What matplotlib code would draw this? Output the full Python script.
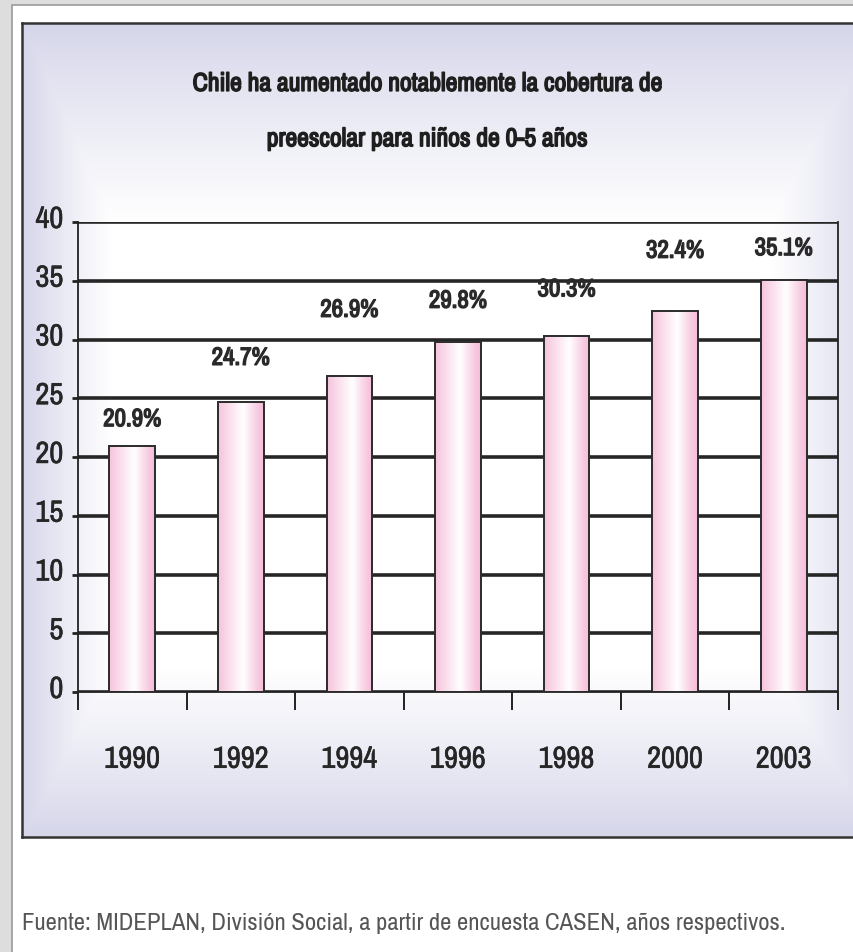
import numpy as np
import matplotlib
matplotlib.use("Agg")
import matplotlib.pyplot as plt
import matplotlib.patheffects as pe
from matplotlib.patches import Rectangle
from matplotlib.transforms import ScaledTranslation

# datos
years = ["1990", "1992", "1994", "1996", "1998", "2000", "2003"]
coverage = [20.9, 24.7, 26.9, 29.8, 30.3, 32.4, 35.1]
value_labels = ["20.9%", "24.7%", "26.9%", "29.8%", "30.3%", "32.4%", "35.1%"]
y_ticks = [0, 5, 10, 15, 20, 25, 30, 35, 40]

title = "Chile ha aumentado notablemente la cobertura de\npreescolar para niños de 0-5 años"
source = "Fuente: MIDEPLAN, División Social, a partir de encuesta CASEN, años respectivos."

FONT = ["Archivo Narrow", "DejaVu Sans"]
plt.rcParams["font.family"] = FONT

W, H = 854, 952
fig = plt.figure(figsize=(W / 100, H / 100), dpi=100)
fig.patch.set_facecolor("#dddddd")


def fx(px):
    return px / W


def fy(py):
    return 1 - py / H


def heavy(lw, color):
    # negrita simulada, la fuente condensada no trae variante bold
    return [pe.withStroke(linewidth=lw, foreground=color)]


# caja blanca exterior
fig.patches.append(Rectangle((fx(12), -0.1), 1, fy(5) + 0.1, transform=fig.transFigure,
                             facecolor="white", edgecolor="#9a9a9a", lw=1.2, zorder=-10))

# panel lila con degradado
p_left, p_top, p_right, p_bottom = 22, 23, 880, 837
bg = fig.add_axes([fx(p_left), fy(p_bottom), fx(p_right - p_left), (p_bottom - p_top) / H])
bg.set_zorder(-5)
nx, ny = p_right - p_left, p_bottom - p_top
xx = np.arange(nx)[None, :]
yy = np.arange(ny)[:, None]
d = np.minimum.reduce([
    np.broadcast_to(xx / 90.0, (ny, nx)),
    np.broadcast_to((nx - xx) / 110.0, (ny, nx)),
    np.broadcast_to(yy / 200.0, (ny, nx)),
    np.broadcast_to((ny - yy) / 170.0, (ny, nx)),
])
d = np.clip(d, 0, 1) ** 0.9
lav = np.array([0.835, 0.835, 0.918])
wht = np.array([1.0, 1.0, 1.0])
img = lav[None, None, :] + (wht - lav)[None, None, :] * d[:, :, None]
bg.imshow(img, aspect="auto", extent=(0, nx, ny, 0), interpolation="bilinear")
bg.set_xlim(0, nx)
bg.set_ylim(ny, 0)
bg.set_xticks([])
bg.set_yticks([])
for s in bg.spines.values():
    s.set_color("#333333")
    s.set_linewidth(1.8)

# titulo
fig.text(fx(427), fy(111), title, ha="center", va="center", fontsize=18.5,
         color="#1e1e1e", linespacing=2.7, path_effects=heavy(1.1, "#1e1e1e"))

# grafico de barras
ax = fig.add_axes([fx(78), fy(692), fx(838 - 78), 470 / H])
ax.set_facecolor("none")
x = np.arange(len(years))
bars = ax.bar(x, coverage, width=0.42, facecolor="none", edgecolor="#2b2b2b",
              linewidth=1.4, zorder=3)

# degradado rosa en cada barra
pink = np.array([0.96, 0.74, 0.85])
t = np.linspace(0, 1, 64)
w = np.interp(t, [0, 0.12, 0.55, 0.85, 1], [0.1, 0.3, 1.0, 0.25, 0.0])
grad = pink[None, :] + (1 - pink)[None, :] * w[:, None]
grad = grad[None, :, :]
for b in bars:
    x0, w0, h0 = b.get_x(), b.get_width(), b.get_height()
    ax.imshow(grad, aspect="auto", extent=(x0, x0 + w0, 0, h0), zorder=2,
              interpolation="bilinear")

ax.set_xlim(-0.5, len(years) - 0.5)
ax.set_ylim(0, 40)
ax.set_aspect("auto")

ax.set_axisbelow(True)
ax.set_yticks(y_ticks)
ax.yaxis.grid(True, color="#262626", linewidth=2.6)
ax.set_xticks(x)
ax.set_xticklabels(years)
ax.set_xticks(np.arange(-0.5, len(years)), minor=True)
ax.tick_params(axis="x", which="major", length=0, pad=38, labelsize=22)
ax.tick_params(axis="x", which="minor", length=13, width=1.4, direction="out",
               color="#222222")
ax.tick_params(axis="y", length=4.5, width=2.0, pad=6, labelsize=22,
               color="#222222")
for lab in ax.get_xticklabels() + ax.get_yticklabels():
    lab.set_color("#262626")
    lab.set_path_effects(heavy(0.4, "#262626"))
for lab in ax.get_yticklabels():
    lab.set_transform(lab.get_transform() + ScaledTranslation(0, 4 / 72, fig.dpi_scale_trans))

for side in ["left", "bottom", "right"]:
    ax.spines[side].set_color("#222222")
    ax.spines[side].set_linewidth(1.3)
ax.spines["top"].set_visible(False)

# etiquetas de valor (desplazamiento en puntos sobre cada barra)
label_offsets = [20, 32, 48, 30, 34, 44, 23]
for b, txt, off in zip(bars, value_labels, label_offsets):
    ax.annotate(txt, (b.get_x() + b.get_width() / 2, b.get_height()),
                xytext=(0, off), textcoords="offset points", ha="center",
                va="center", fontsize=18, color="#2a2a2a", zorder=5,
                annotation_clip=False, path_effects=heavy(1.0, "#2a2a2a"))

# fuente
fig.text(fx(22), fy(923), source, ha="left", va="center", fontsize=17.8,
         color="#555555")

fig.savefig("out.png", dpi=100, facecolor=fig.get_facecolor())
